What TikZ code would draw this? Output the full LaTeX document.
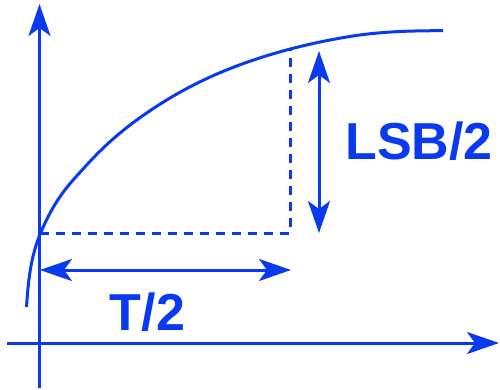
\documentclass[tikz,border=0pt]{standalone}
\usepackage{fontspec}
\setmainfont{Liberation Sans}
\usetikzlibrary{arrows.meta}
\definecolor{lineblue}{RGB}{10,58,240}
\begin{document}
\begin{tikzpicture}[x=1pt,y=-1pt,
  every path/.style={line width=3pt},
  axis/.style={draw=lineblue,-{Stealth[length=32pt,width=22pt,inset=8pt]}},
  dim/.style={draw=lineblue,{Stealth[length=32pt,width=22pt,inset=8pt]}-{Stealth[length=32pt,width=22pt,inset=8pt]}},
  guide/.style={draw=lineblue,dash pattern=on 9pt off 7pt},
  lbl/.style={text=lineblue,font=\bfseries\fontsize{52}{52}\selectfont,inner sep=0pt}]
\useasboundingbox (0,0) rectangle (500,390);
\coordinate (yb) at (39.5,388);
\coordinate (yt) at (39.5,4);
\coordinate (xl) at (7,343);
\coordinate (xr) at (499,343);
\coordinate (P) at (40,233);
\coordinate (Q) at (290,50);
\coordinate (C) at (290,233);
\draw[axis] (yb)--(yt);
\draw[axis] (xl)--(xr);
% response curve
\draw[lineblue] (26.5,307) .. controls (28.2,282.4) and (30.2,257.9) .. (40.5,233.3)
  .. controls (55.9,196.3) and (71.3,182.1) .. (86.7,165)
  .. controls (108.9,140.4) and (131.1,123.2) .. (153.3,108.5)
  .. controls (181.1,90.2) and (208.9,76.4) .. (236.7,66)
  .. controls (273.4,52.2) and (310,43.2) .. (346.7,37)
  .. controls (378.8,31.5) and (410.9,30.7) .. (443,30.7);
\draw[guide] (P)--(C)--(Q);
\draw[dim] (40,270)--(291,270);
\draw[dim] (319,51)--(319,233);
\node[lbl] (T) at (147.5,312) {T/2};
\node[lbl] (LSB) at (419,141) {LSB/2};
\end{tikzpicture}
\end{document}
